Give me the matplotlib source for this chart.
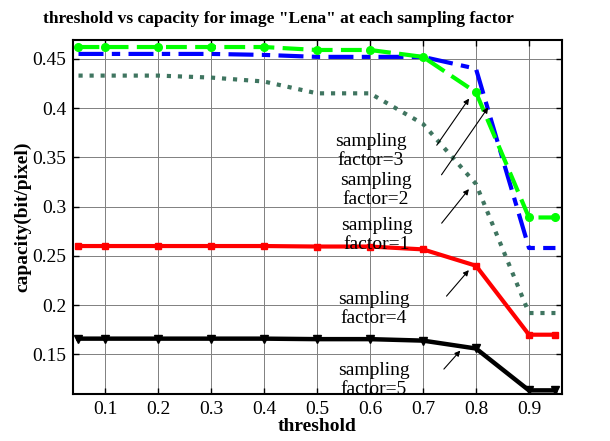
import matplotlib.pyplot as plt

thresholds = [0.05, 0.1, 0.2, 0.3, 0.4, 0.5, 0.6, 0.7, 0.8, 0.9, 0.95]

cap_green = [0.462, 0.462, 0.462, 0.462, 0.462, 0.459, 0.459, 0.452, 0.416, 0.289, 0.289]
cap_blue = [0.455, 0.455, 0.455, 0.455, 0.454, 0.452, 0.452, 0.452, 0.440, 0.258, 0.258]
cap_dotted = [0.433, 0.433, 0.433, 0.431, 0.427, 0.415, 0.415, 0.384, 0.323, 0.192, 0.192]
cap_red = [0.260, 0.260, 0.260, 0.260, 0.260, 0.2595, 0.2595, 0.2566, 0.240, 0.170, 0.170]
cap_black = [0.166, 0.166, 0.166, 0.166, 0.166, 0.1655, 0.1655, 0.164, 0.156, 0.1135, 0.1135]

x_ticks = [0.1, 0.2, 0.3, 0.4, 0.5, 0.6, 0.7, 0.8, 0.9]
y_ticks = [0.15, 0.2, 0.25, 0.3, 0.35, 0.4, 0.45]
y_tick_labels = ['0.15', '0.2', '0.25', '0.3', '0.35', '0.4', '0.45']

# annotation: label, text pos, arrow tail, arrow head
notes = [
    ("sampling\nfactor=3", (0.602, 0.3565), (0.723, 0.360), (0.79, 0.412)),
    ("sampling\nfactor=2", (0.611, 0.317), (0.732, 0.330), (0.826, 0.403)),
    ("sampling\nfactor=1", (0.613, 0.271), (0.732, 0.281), (0.79, 0.320)),
    ("sampling\nfactor=4", (0.6075, 0.1965), (0.741, 0.207), (0.79, 0.2377)),
    ("sampling\nfactor=5", (0.607, 0.124), (0.736, 0.133), (0.774, 0.156)),
]

plt.rcParams['font.family'] = ['Liberation Serif', 'DejaVu Serif']

fig = plt.figure(figsize=(6.1, 4.41), dpi=100)
ax = fig.add_axes([0.12, 0.107, 0.801, 0.802])

ax.plot(thresholds, cap_black, color='black', lw=3.2, marker='v', ms=6)
ax.plot(thresholds, cap_red, color='#ff0000', lw=3, marker='s', ms=5)
ax.plot(thresholds, cap_dotted, color='#3f7560', lw=3, ls=':')
ax.plot(thresholds, cap_blue, color='#0000ff', lw=3, ls='-.', dashes=(6, 2, 2, 2))
ax.plot(thresholds, cap_green, color='#00ff00', lw=3, ls='--', dashes=(5, 2), marker='o', ms=5.5)

for label, txt, tail, head in notes:
    ax.text(txt[0], txt[1], label, ha='center', va='center', fontsize=14, linespacing=1.15)
    ax.annotate('', xy=head, xytext=tail,
                arrowprops=dict(arrowstyle='-|>', color='black', lw=0.8, mutation_scale=8))

ax.set_xlim(0.04, 0.962)
ax.set_ylim(0.11, 0.469)
ax.set_xticks(x_ticks)
ax.set_xticklabels([str(t) for t in x_ticks])
ax.set_yticks(y_ticks)
ax.set_yticklabels(y_tick_labels)
ax.tick_params(direction='in', top=True, right=True, labelsize=14, length=4, width=1, pad=5)
ax.grid(True, color='#808080', lw=0.7)
ax.set_axisbelow(True)
for s in ax.spines.values():
    s.set_linewidth(1.5)

ax.set_xlabel('threshold', fontsize=14, fontweight='bold')
ax.xaxis.set_label_coords(0.5, -0.068)
ax.set_ylabel('capacity(bit/pixel)', fontsize=14, fontweight='bold')
ax.yaxis.set_label_coords(-0.086, 0.5)
fig.text(0.457, 0.958, 'threshold vs capacity for image "Lena" at each sampling factor',
         ha='center', va='center', fontsize=12.5, fontweight='bold')

fig.savefig('out.png', dpi=100)
